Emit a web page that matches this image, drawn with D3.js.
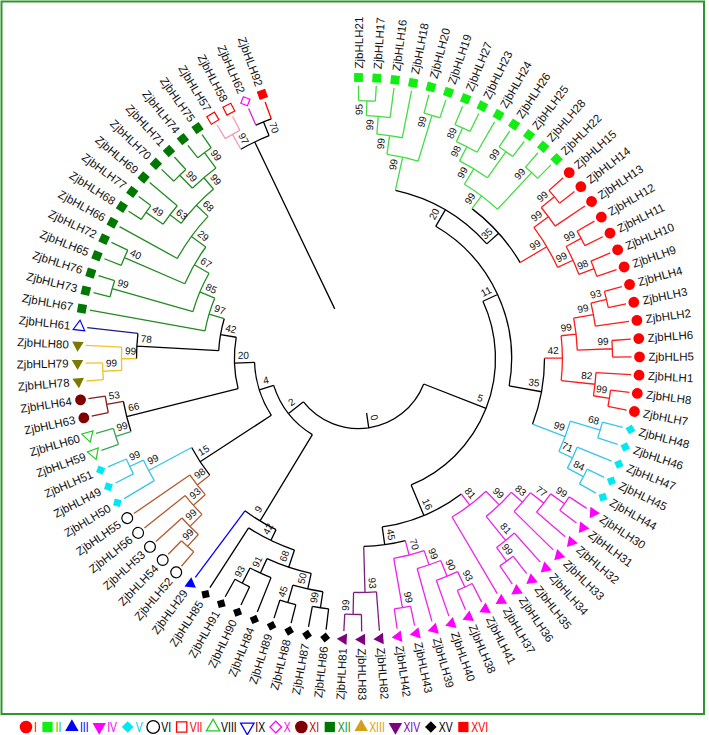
<!DOCTYPE html>
<html><head><meta charset="utf-8">
<script src="https://cdn.jsdelivr.net/npm/d3@7"></script>
<style>
html,body{margin:0;padding:0;background:#fff;}
svg{display:block;}
</style></head><body>
<svg id="chart" width="709" height="735"></svg>
<script>
// ---------- DATA ----------
// Clades in Newick form: "(a,b)bootstrap:height", height = node distance from root (leaves = 1)
const cladeIIa = "((((21,17)95:0.931,16)99:0.862,18)99:0.780,(20,19)99:0.913)99:0.693";
const cladeIIb = "((((27,23)89:0.908,24)98:0.839,(26,25)99:0.913)99:0.766,(28,22)99:0.913)99:0.683";
const cladeIa  = "(((15,14)99:0.913,13)99:0.835,((12,11)99:0.908,(10,9)98:0.904)99:0.830)99:0.752";
const cladeIb  = "((((4,3)93:0.917,2)99:0.844,(6,5)99:0.913)99:0.752,(1,(8,7)99:0.913)82:0.839)42:0.683";
const cladeVa  = "((48,46)68:0.904,(47,(45,44)84:0.913)71:0.830)99:0.761";
const cladeIVa = "(((((30,31)99:0.904,32)77:0.826,33)83:0.748,(34,(35,36)99:0.899)81:0.821)99:0.679,37)81:0.592";
const cladeIVb = "((((41,38)93:0.904,40)90:0.826,39)99:0.748,(43,42)99:0.908)70:0.679";
const cladeXIV = "(82,(83,81)99:0.922)93:0.821";
const cladeXV  = "((((86,87)99:0.904,(88,89)45:0.913)50:0.830,(84,(90,91)93:0.908)91:0.830)68:0.757,85)42:0.674";
const cladeVI  = "((((52,54)99:0.913,53)99:0.839,56)93:0.761,55)98:0.688";
const cladeVb  = "(50,(49,51)99:0.908)99:0.839";
const cladeVIII_XI = "((59,60)99:0.917,(63,64)53:0.922)66:0.844";
const cladeXIII = "((78,79)99:0.922,80)99:0.835";
const cladeXII = "(67,((73,76)99:0.922,((65,72)40:0.917,(66,(((68,77)49:0.931,69)63:0.835,((70,71)99:0.922,(74,75)99:0.927)99:0.839)68:0.771)29:0.697)67:0.615)85:0.537)97:0.463";
const cladeTop = "((57,58)97:0.927,(62,92)70:0.917):0.849";

const treeNewick =
  `((((((${cladeIIa},(${cladeIIb},${cladeIa})35:0.610)20:0.537,(${cladeIb},${cladeVa})35:0.601)11:0.450,` +
  `(${cladeIVa},(${cladeIVb},${cladeXIV})45:0.610)16:0.528)5:0.376,` +
  `((${cladeXV},29)9:0.619,((${cladeVI},${cladeVb})15:0.615,(${cladeVIII_XI},((${cladeXIII},61)78:0.766,${cladeXII})42:0.390)20:0.317)4:0.225)2:0.156)0:0.069,` +
  `${cladeTop}):0;`;

const groupNames = ["I","II","III","IV","V","VI","VII","VIII","IX","X","XI","XII","XIII","XIV","XV","XVI"];
const groupMembers = [
  [15,14,13,12,11,10,9,4,3,2,6,5,1,8,7],
  [21,17,16,18,20,19,27,23,24,26,25,28,22],
  [29],
  [30,31,32,33,34,35,36,37,41,38,40,39,43,42],
  [48,46,47,45,44,50,49,51],
  [52,54,53,56,55],
  [57,58],
  [59,60],
  [61],
  [62],
  [63,64],
  [67,73,76,65,72,66,68,77,69,70,71,74,75],
  [78,79,80],
  [82,83,81],
  [86,87,88,89,84,90,91,85],
  [92]
];
const groupShape = ["circle","square","triangle","triangleDown","diamond","circle","square","triangle",
                    "triangleDown","diamond","circle","square","triangle","triangleDown","diamond","square"];
const groupFilled = [true,true,true,true,true,false,false,false,false,false,true,true,true,true,true,true];
const groupMarkColor = ["#ff0000","#11ee11","#0000ff","#ff00ff","#00e8f0","#000000","#ff0000","#22cc22",
                        "#0000ff","#ff00ff","#800000","#007700","#7a7a00","#7f007f","#000000","#ff0000"];
const groupLegendColor = ["#ff0000","#11ee11","#0000ff","#ff00ff","#00e8f0","#000000","#ff0000","#22cc22",
                        "#0000ff","#ff00ff","#800000","#007700","#d4a017","#7f007f","#000000","#ff0000"];
const groupTextColor = ["#ff0000","#22cc22","#0000ff","#ff00ff","#00ccee","#000000","#ff0000","#000000",
                        "#000000","#ff00ff","#cc0000","#119911","#e0a010","#8000c0","#000000","#ff0000"];
const groupLineColor = ["#ff1a1a","#44dd44","#0000ff","#ee22ee","#35c5ec","#b25a2a","#f49ac2","#3aa657",
                        "#1c1c8c","#d22cd2","#8b1a1a","#228b22","#f2c12e","#7b1f7b","#000000","#ff0000"];

// ---------- PARSER ----------
function parseNewick(s) {
  let i = 0;
  function node() {
    const n = {children: []};
    if (s[i] === "(") {
      i++;
      n.children.push(node());
      while (s[i] === ",") { i++; n.children.push(node()); }
      i++;
    }
    let name = "";
    while (i < s.length && !",():;".includes(s[i])) name += s[i++];
    n.name = name.trim();
    if (s[i] === ":") {
      i++;
      let num = "";
      while (i < s.length && !",();".includes(s[i])) num += s[i++];
      n.height = +num;
    }
    if (!n.children.length) delete n.children;
    return n;
  }
  return node();
}

// ---------- LAYOUT ----------
const W = 709, H = 735, cx = 358.5, cy = 358.5;
const svg = d3.select("#chart");
svg.append("rect").attr("x", 1.5).attr("y", 1.5).attr("width", 702.5).attr("height", 712.5)
  .attr("fill", "none").attr("stroke", "#2f952f").attr("stroke-width", 2);

const leafGroup = new Map();
groupMembers.forEach((m, gi) => m.forEach(id => leafGroup.set(String(id), gi)));

const root = d3.hierarchy(parseNewick(treeNewick));
d3.cluster().nodeSize([1, 1]).separation(() => 1)(root);
const leaves = root.leaves();
const angle = d3.scaleLinear().domain([leaves[0].x, leaves[leaves.length - 1].x]).range([0, 340]);
const radius = d3.scaleLinear().domain([0, 1]).range([55, 273]);
const markR = 281, labelR = 290;

root.each(d => { d.a = angle(d.x); d.r = radius(d.children ? d.data.height : 1); });
root.eachAfter(d => {
  if (!d.children) d.g = leafGroup.get(d.data.name);
  else {
    const gs = d.children.map(c => c.g);
    d.g = gs.every(g => g != null && g === gs[0]) ? gs[0] : null;
  }
});

const rad = a => a * Math.PI / 180;
const pt = (a, r) => [cx + r * Math.sin(rad(a)), cy - r * Math.cos(rad(a))];
const colorOf = d => d.g == null ? "#000" : groupLineColor[d.g];

const gTree = svg.append("g").attr("fill", "none").attr("stroke-width", 1.3);
const nodes = root.descendants().sort((a, b) => (a.g == null ? 0 : 1) - (b.g == null ? 0 : 1));
nodes.forEach(d => {
  let p = "";
  if (d.parent) {
    const p0 = pt(d.a, d.parent.r), p1 = pt(d.a, d.r);
    p += `M${p0[0]},${p0[1]}L${p1[0]},${p1[1]}`;
  }
  if (d.children) {
    const a0 = d.children[0].a, a1 = d.children[d.children.length - 1].a;
    const q0 = pt(a0, d.r), q1 = pt(a1, d.r);
    p += `M${q0[0]},${q0[1]}A${d.r},${d.r} 0 ${a1 - a0 > 180 ? 1 : 0} 1 ${q1[0]},${q1[1]}`;
  }
  if (p) gTree.append("path").attr("d", p).attr("stroke", colorOf(d));
});

// bootstrap labels
const gBoot = svg.append("g").attr("font-family", "Liberation Sans, Arial, sans-serif")
  .attr("font-size", 10).attr("fill", "#111").attr("text-anchor", "middle");
root.descendants().filter(d => d.children && d.parent && d.data.name !== "").forEach(d => {
  const right = d.a < 180;
  const off = 8 / d.r * 180 / Math.PI;
  const la = d.a + (right ? -off : off);
  const p = pt(la, d.r - 9);
  gBoot.append("text")
    .attr("transform", `translate(${p[0]},${p[1]}) rotate(${right ? la - 90 : la + 90})`)
    .attr("dominant-baseline", "central").text(d.data.name);
});

// markers
const baseRot = {circle: 0, square: 0, triangle: 0, triangleDown: 180, diamond: 45};
function symbolPath(shape, scale) {
  const type = shape === "circle" ? d3.symbolCircle
    : (shape === "square" || shape === "diamond") ? d3.symbolSquare : d3.symbolTriangle;
  const size = {circle: 92, square: 78, diamond: 50, triangle: 58, triangleDown: 58}[shape] * scale;
  return d3.symbol().type(type).size(size)();
}
const gMark = svg.append("g");
leaves.forEach(d => {
  const g = d.g, shape = groupShape[g];
  const p = pt(d.a, markR);
  const m = gMark.append("path")
    .attr("d", symbolPath(shape, 1))
    .attr("transform", `translate(${p[0]},${p[1]}) rotate(${d.a - 90 + baseRot[shape]})`);
  if (groupFilled[g]) m.attr("fill", groupMarkColor[g]);
  else m.attr("fill", "#fff").attr("stroke", groupMarkColor[g]).attr("stroke-width", 1.2);
});

// leaf labels
const gLab = svg.append("g").attr("font-family", "Liberation Sans, Arial, sans-serif")
  .attr("font-size", 11.5).attr("fill", "#111");
leaves.forEach(d => {
  const right = d.a < 180;
  const p = pt(d.a, labelR);
  gLab.append("text")
    .attr("transform", `translate(${p[0]},${p[1]}) rotate(${right ? d.a - 90 : d.a + 90})`)
    .attr("text-anchor", right ? "start" : "end")
    .attr("dominant-baseline", "central")
    .text("ZjbHLH" + d.data.name);
});

// legend
const gLeg = svg.append("g");
let lx = 26;
const ly = 727;
groupNames.forEach((name, gi) => {
  const shape = groupShape[gi];
  const m = gLeg.append("path").attr("d", symbolPath(shape, 1.35))
    .attr("transform", `translate(${lx},${ly}) rotate(${baseRot[shape]})`);
  if (groupFilled[gi]) m.attr("fill", groupLegendColor[gi]);
  else m.attr("fill", "#fff").attr("stroke", groupLegendColor[gi]).attr("stroke-width", 1.3);
  const t = gLeg.append("text")
    .attr("transform", `translate(${lx + 8},${ly}) scale(0.72,1)`)
    .attr("font-family", "Liberation Sans, Arial, sans-serif").attr("font-size", 14.5)
    .attr("dominant-baseline", "central").attr("fill", groupTextColor[gi]).text(name);
  const w = t.node().getComputedTextLength() * 0.72;
  lx = lx + 8 + w + 10.6;
});
</script>
</body></html>
